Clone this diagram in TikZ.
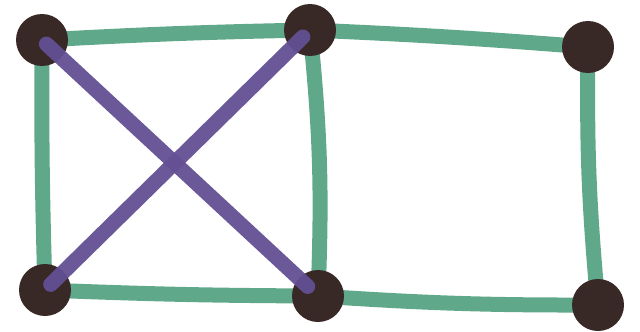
\documentclass[tikz,border=0pt]{standalone}
\usepackage{tikz}
\usetikzlibrary{backgrounds}

\definecolor{edgegreen}{RGB}{96,168,138}
\definecolor{diagpurple}{RGB}{99,79,147}
\definecolor{vertexbrown}{RGB}{56,40,38}

\begin{document}
\begin{tikzpicture}[x=1pt,y=-1pt,
  vertex/.style={circle,fill=vertexbrown,minimum size=52pt,inner sep=0pt},
  side/.style={edgegreen,line width=15pt,line cap=round},
  diag/.style={diagpurple,line width=15pt,line cap=round,opacity=0.95}]
\useasboundingbox (0,0) rectangle (640,332);
\node[vertex] (tl) at (42,40) {};
\node[vertex] (tm) at (310,30) {};
\node[vertex] (tr) at (588,47) {};
\node[vertex] (bl) at (45,290) {};
\node[vertex] (bm) at (318,296) {};
\node[vertex] (br) at (598,305) {};
\begin{pgfonlayer}{background}
\draw[side] (tl.center) to[bend left=1] (tm.center);
\draw[side] (tm.center) to[bend left=1] (tr.center);
\draw[side] (bl.center) to[bend right=1] (bm.center);
\draw[side] (bm.center) to[bend right=2] (br.center);
\draw[side] (tl.center) to[bend right=1] (bl.center);
\draw[side] (tm.center) to[bend left=4] (bm.center);
\draw[side] (tr.center) to[bend right=3] (br.center);
\end{pgfonlayer}
% diagonals lie on top of the vertices
\draw[diag,shorten <=6pt,shorten >=14pt] (tl.center) -- (bm.center);
\draw[diag,shorten <=10pt,shorten >=8pt] (tm.center) -- (bl.center);
\end{tikzpicture}
\end{document}
